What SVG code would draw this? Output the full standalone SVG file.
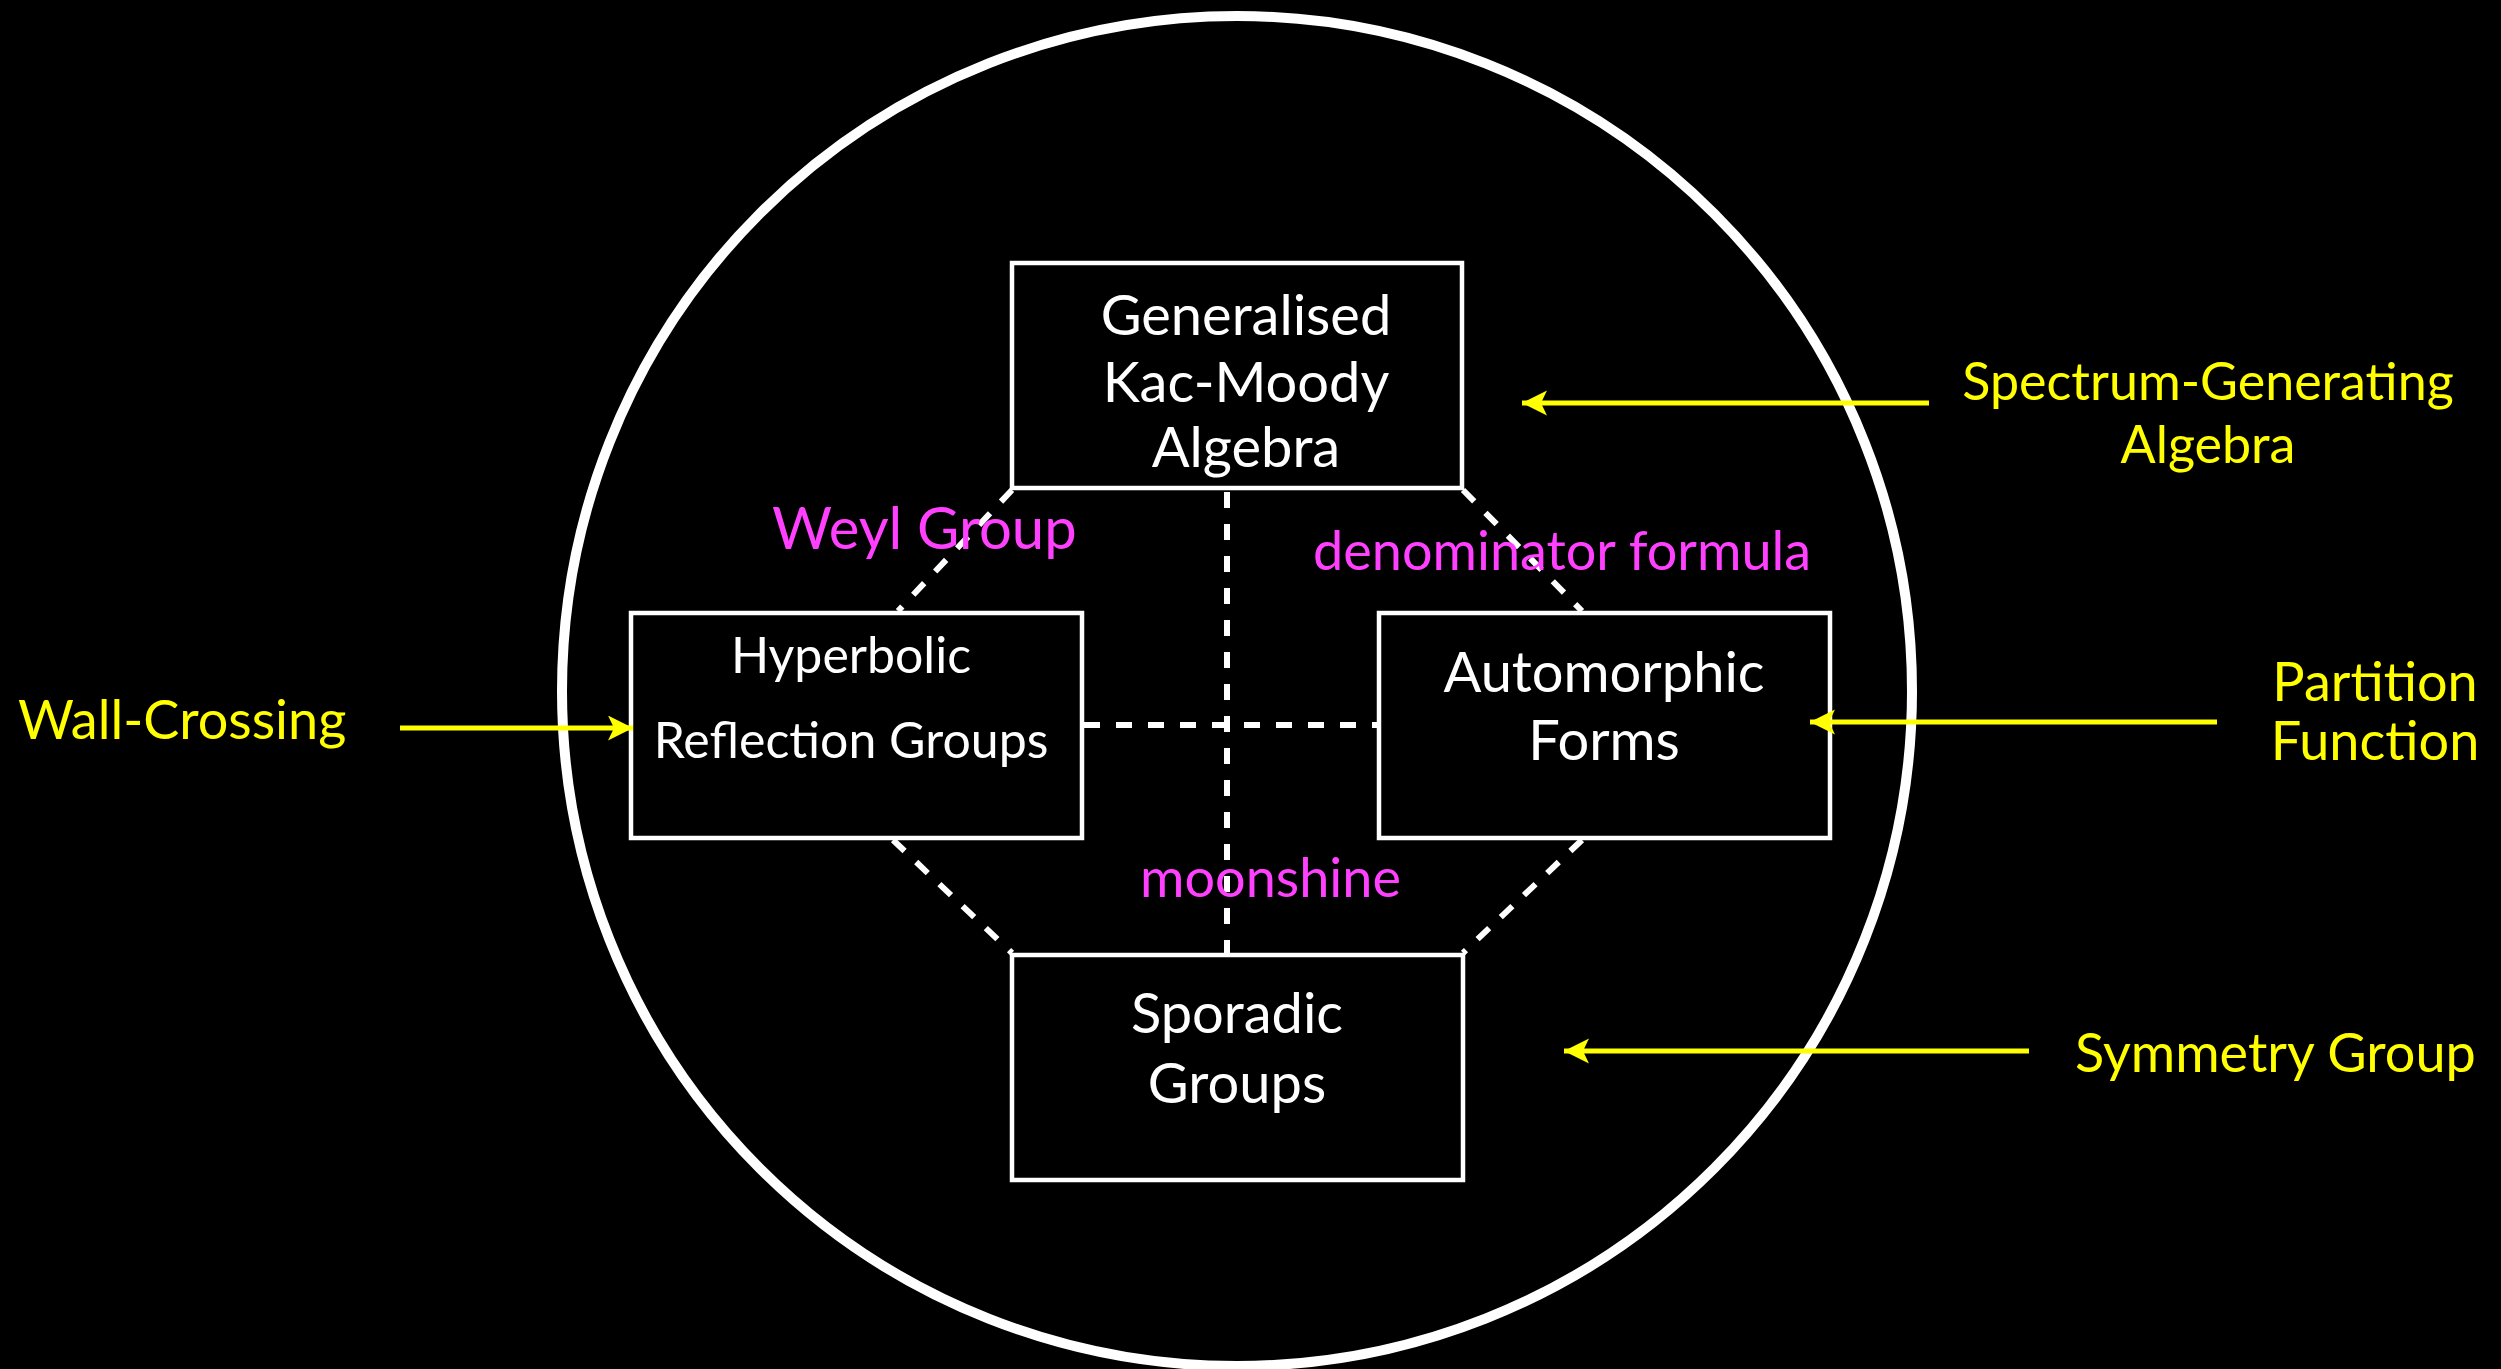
<svg xmlns="http://www.w3.org/2000/svg" width="2501" height="1369" viewBox="0 0 2501 1369">
  <defs>
    <style>
      .bg { fill: #000000; }
      .ring { fill: none; stroke: #ffffff; stroke-width: 10; }
      .box { fill: #000000; stroke: #ffffff; stroke-width: 4.5; }
      .node-text { font-family: Lato, "Open Sans", sans-serif; font-size: 56px; fill: #ffffff; text-anchor: middle; }
      .node-text.small { font-size: 50px; }
      .link { fill: none; stroke: #ffffff; stroke-width: 6; stroke-dasharray: 16 16; }
      .link-label { font-family: Lato, "Open Sans", sans-serif; font-size: 58px; fill: #ff40ff; }
      .link-label.narrow { font-size: 54px; }
      .feed { fill: none; stroke: #ffff00; stroke-width: 5; marker-end: url(#arrowhead); }
      .feed-label { font-family: Lato, "Open Sans", sans-serif; font-size: 54px; fill: #ffff00; }
      .feed-label.narrow { font-size: 52px; }
    </style>
    <marker id="arrowhead" markerUnits="userSpaceOnUse" markerWidth="30" markerHeight="30" refX="25" refY="12.5" orient="auto">
      <path d="M0,0 L25,12.5 L0,25 L6,12.5 Z" fill="#ffff00"/>
    </marker>
  </defs>

  <rect class="bg" x="0" y="0" width="2501" height="1369"/>

  <!-- enclosing circle -->
  <circle class="ring" cx="1237" cy="691" r="675"/>

  <!-- dashed relations between the four fields -->
  <g id="connectors">
    <line class="link" x1="1227" y1="492" x2="1227" y2="953"/>
    <line class="link" x1="1084" y1="725" x2="1377" y2="725"/>
    <line class="link" x1="1012" y1="490" x2="898" y2="611"/>
    <line class="link" x1="1463" y1="490" x2="1582" y2="611"/>
    <line class="link" x1="893" y1="840" x2="1012" y2="953"/>
    <line class="link" x1="1582" y1="840" x2="1463" y2="953"/>
  </g>

  <g id="node-kac-moody">
    <rect class="box" x="1012" y="263" width="450" height="225"/>
    <text class="node-text" x="1246" y="335">Generalised</text>
    <text class="node-text" x="1246" y="402">Kac-Moody</text>
    <text class="node-text" x="1246" y="467">Algebra</text>
  </g>

  <g id="node-reflection-groups">
    <rect class="box" x="631" y="613" width="451" height="225"/>
    <text class="node-text small" x="851" y="673">Hyperbolic</text>
    <text class="node-text small" x="851" y="758">Reflection Groups</text>
  </g>

  <g id="node-automorphic-forms">
    <rect class="box" x="1379" y="613" width="451" height="225"/>
    <text class="node-text" x="1604" y="692">Automorphic</text>
    <text class="node-text" x="1604" y="760">Forms</text>
  </g>

  <g id="node-sporadic-groups">
    <rect class="box" x="1012" y="955" width="451" height="225"/>
    <text class="node-text" x="1237" y="1033">Sporadic</text>
    <text class="node-text" x="1237" y="1103">Groups</text>
  </g>

  <!-- relation labels -->
  <g id="relation-labels">
    <text class="link-label" x="772" y="549">Weyl Group</text>
    <text class="link-label narrow" x="1313" y="570">denominator formula</text>
    <text class="link-label narrow" x="1140" y="897">moonshine</text>
  </g>

  <!-- physics counterparts pointing in -->
  <g id="physics-arrows">
    <line class="feed" x1="400" y1="728" x2="633" y2="728"/>
    <line class="feed" x1="1929" y1="403" x2="1522" y2="403"/>
    <line class="feed" x1="2217" y1="722" x2="1810" y2="722"/>
    <line class="feed" x1="2029" y1="1051" x2="1564" y2="1051"/>
  </g>

  <g id="physics-labels">
    <text class="feed-label" x="18" y="739">Wall-Crossing</text>
    <text class="feed-label narrow" x="2208" y="400" text-anchor="middle">Spectrum-Generating</text>
    <text class="feed-label narrow" x="2208" y="463" text-anchor="middle">Algebra</text>
    <text class="feed-label" x="2375" y="701" text-anchor="middle">Partition</text>
    <text class="feed-label" x="2375" y="760" text-anchor="middle">Function</text>
    <text class="feed-label" x="2075" y="1072">Symmetry Group</text>
  </g>
</svg>
